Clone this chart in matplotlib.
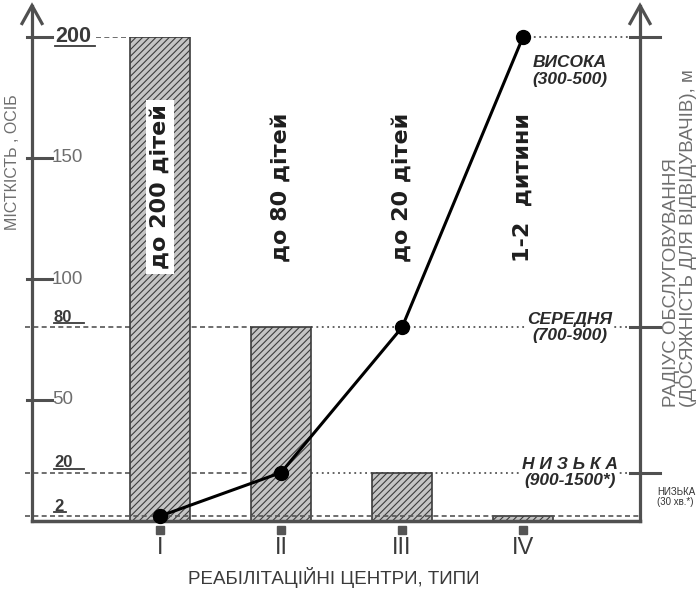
import matplotlib
matplotlib.use("Agg")
import matplotlib.pyplot as plt
from matplotlib import font_manager

# data
types = ["I", "II", "III", "IV"]
capacity = [200, 80, 20, 2]
capacity_text = ["до 200 дітей", "до 80 дітей", "до 20 дітей", "1-2  дитини"]
radius_points = [2, 20, 80, 200]
plain_ticks = [50, 100, 150]
marked_values = [200, 80, 20, 2]
radius_levels = [20, 80, 200]
radius_text = ["Н И З Ь К А\n(900-1500*)", "СЕРЕДНЯ\n(700-900)", "ВИСОКА\n(300-500)"]

names = {f.name for f in font_manager.fontManager.ttflist}
narrow = ["Liberation Sans Narrow", "Liberation Sans", "DejaVu Sans"]
narrow = [n for n in narrow if n in names] or ["DejaVu Sans"]

axis_col = "#505050"
lab_col = "#6e6e6e"

fig = plt.figure(figsize=(6.99, 5.91), dpi=100)
ax = fig.add_axes([32 / 699, 70 / 591, 608 / 699, 484 / 591])
xmin, xmax = -0.058, 4.967
ax.set_xlim(xmin, xmax)
ax.set_ylim(0, 200)
ax.axis("off")

px = 1 / 121.0      # one pixel in x data units
py = 1 / 2.42       # one pixel in y data units
xs = list(range(1, len(types) + 1))

# axes with arrow heads
tip = 213
for x0 in (xmin, xmax):
    ax.plot([x0, x0], [0, tip], color=axis_col, lw=2.3, clip_on=False, zorder=6)
    ax.plot([x0 - 10 * px, x0, x0 + 10 * px], [tip - 18 * py, tip, tip - 18 * py],
            color=axis_col, lw=2.3, clip_on=False, zorder=6, solid_joinstyle="miter")
ax.plot([xmin, xmax], [0, 0], color=axis_col, lw=2.5, clip_on=False, zorder=6)

# left ticks
for v in plain_ticks + [200]:
    ax.plot([xmin - 5 * px, xmin + 20 * px], [v, v], color=axis_col, lw=2.2, clip_on=False, zorder=6)
for v in plain_ticks:
    ax.text(xmin + 20 * px, v, str(v), ha="left", va="center", fontsize=13.5,
            color=lab_col, family=narrow)

# underlined marked values
for v in marked_values:
    big = v == 200
    if big:
        ty, x0, w, fs = v, xmin + 23 * px, 40, 15.5
    else:
        ty, x0, w, fs = v + 10 * py, xmin + 22 * px, 30 if v > 9 else 12, 12
    ax.text(x0, ty, str(v), ha="left", va="center", fontsize=fs,
            color="#3a3a3a", fontweight="bold", family=narrow)
    uy = ty - 9 * py if big else ty - 6 * py
    ax.plot([x0, x0 + w * px], [uy, uy], color="#3a3a3a", lw=1.3, clip_on=False)

# reference lines
dash = (0, (3, 2))
dot = (0, (1, 2))
lc = "#555555"
ax.plot([xmin + 64 * px, 1 - 0.25], [200, 200], color=lc, lw=1.2, ls=dash, zorder=1)
ax.plot([4, xmax + 20 * px], [200, 200], color=lc, lw=1.3, ls=dot, zorder=1, clip_on=False)
for v in (80, 20):
    ax.plot([xmin - 7 * px, 2 - 0.25], [v, v], color=lc, lw=1.2, ls=dash, zorder=1, clip_on=False)
    ax.plot([2 + 0.25, xmax + 20 * px], [v, v], color=lc, lw=1.3, ls=dot, zorder=1, clip_on=False)
ax.plot([xmin - 7 * px, xmax], [2, 2], color=lc, lw=1.2, ls=dash, zorder=4, clip_on=False)

# right ticks
for v in radius_levels:
    ax.plot([xmax - 10 * px, xmax + 20 * px], [v, v], color=axis_col, lw=2.2, clip_on=False, zorder=6)

# bars
plt.rcParams["hatch.color"] = "#2e2e2e"
plt.rcParams["hatch.linewidth"] = 0.8
ax.bar(xs, capacity, width=0.5, color="#c4c4c4", edgecolor="#3c3c3c", hatch="/////",
       linewidth=1.2, zorder=2)

for i, (x, s) in enumerate(zip(xs, capacity_text)):
    box = dict(facecolor="white", edgecolor="none", pad=3) if i == 0 else None
    ax.text(x, 138, s, rotation=90, ha="center", va="center", fontsize=16,
            fontweight="bold", color="#1e1e1e", bbox=box, zorder=5)

# service radius line
ax.plot(xs, radius_points, color="black", lw=2.2, marker="o", markersize=10, zorder=7,
        clip_on=False)

for v, s in zip(radius_levels, radius_text):
    y = v if v != 200 else v - 34 * py
    ax.text(xmin + 538 * px, y, s, ha="center", va="center", multialignment="center",
            fontsize=12.5, fontstyle="italic", fontweight="bold", color="#2a2a2a",
            linespacing=1.1, family=narrow,
            bbox=dict(facecolor="white", edgecolor="none", pad=1), zorder=3)

# x ticks
for x, s in zip(xs, types):
    ax.plot([x], [-9 * py], marker="s", markersize=5.5, color="#555555", clip_on=False)
    ax.text(x, -27 * py, s, ha="center", va="center", fontsize=17, color="#3a3a3a",
            family=narrow)

fig.text(334 / 699, 1 - 578 / 591, "РЕАБІЛІТАЦІЙНІ ЦЕНТРИ, ТИПИ", ha="center", va="center",
         fontsize=13.5, color="#3a3a3a", family=narrow)
fig.text(13 / 699, 1 - 162 / 591, "МІСТКІСТЬ , ОСІБ", rotation=90, ha="center", va="center",
         fontsize=11.5, color=lab_col, family=narrow)
fig.text(680 / 699, 1 - 407 / 591, "РАДІУС ОБСЛУГОВУВАННЯ\n(ДОСЯЖНІСТЬ ДЛЯ ВІДВІДУВАЧІВ), м",
         rotation=90, ha="center", va="bottom", multialignment="left", fontsize=13.5,
         color=lab_col, family=narrow, linespacing=0.95)
fig.text(657 / 699, 1 - 497 / 591, "НИЗЬКА\n(30 хв.*)", ha="left", va="center",
         fontsize=7, color="#333333", family=narrow, linespacing=1.0)

fig.savefig("out.png", dpi=100, facecolor="white")
